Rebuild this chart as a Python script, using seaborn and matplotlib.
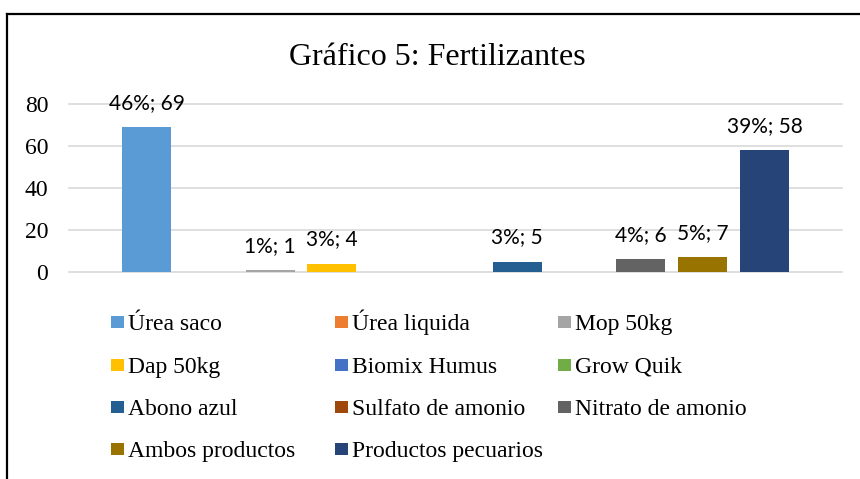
import matplotlib
matplotlib.use("Agg")
import matplotlib.pyplot as plt
from matplotlib.lines import Line2D
from matplotlib.patches import Rectangle
import pandas as pd
import seaborn as sns

# Gráfico 5 — Fertilizantes (one bar per product, Excel-style)

categories = ["Úrea saco", "Úrea liquida", "Mop 50kg", "Dap 50kg", "Biomix Humus",
              "Grow Quik", "Abono azul", "Sulfato de amonio", "Nitrato de amonio",
              "Ambos productos", "Productos pecuarios"]
values = [69, 0, 1, 4, 0, 0, 5, 0, 6, 7, 58]
percents = ["46%", "0%", "1%", "3%", "0%", "0%", "3%", "0%", "4%", "5%", "39%"]
colors = ["#5B9BD5", "#ED7D31", "#A5A5A5", "#FFC000", "#4472C4", "#70AD47",
          "#255E91", "#9E480E", "#636363", "#997300", "#264478"]
y_ticks = [0, 20, 40, 60, 80]

SERIF = "Liberation Serif"
LABEL_FONT = "Lato"

df = pd.DataFrame({"producto": categories, "valor": values})
palette = dict(zip(categories, colors))

W, H = 860, 479
fig = plt.figure(figsize=(W / 100, H / 100), dpi=100)
ax = fig.add_axes([69 / W, 1 - 272 / H, (842 - 69) / W, (272 - 104) / H])

sns.barplot(data=df, x="producto", y="valor", hue="producto", order=categories,
            hue_order=categories, palette=palette, width=0.794, legend=False,
            saturation=1, ax=ax)

ax.set_xlim(-1.255, 11.255)
ax.set_ylim(0, 80)
ax.set_yticks(y_ticks)
ax.set_xticks([])
ax.set_xlabel("")
ax.set_ylabel("")
for s in ax.spines.values():
    s.set_visible(False)
ax.yaxis.grid(True, color="#D9D9D9", linewidth=1.2)
ax.set_axisbelow(True)
for gl in ax.get_ygridlines():
    gl.set_clip_on(False)
ax.tick_params(axis="y", length=0, pad=15)
for t in ax.get_yticklabels():
    t.set_fontfamily(SERIF)
    t.set_fontsize(17)

for i, (v, p) in enumerate(zip(values, percents)):
    if v == 0:
        continue
    ax.annotate(f"{p}; {v}", (i, v), xytext=(0, 13), textcoords="offset points",
                ha="center", va="baseline", fontsize=15, family=LABEL_FONT,
                annotation_clip=False)

fig.text(437.5 / W, 1 - 65 / H, "Gráfico 5: Fertilizantes", ha="center",
         va="baseline", family=SERIF, fontsize=23)

# legend laid out like Excel: 3 columns, filled row by row
col_x = [111, 335, 558]
row_y = [322, 365, 407, 449]
box = 12.5
for k, name in enumerate(categories):
    r, c = divmod(k, 3)
    x0, yc = col_x[c], row_y[r]
    fig.add_artist(Rectangle((x0 / W, 1 - (yc + box / 2) / H), box / W, box / H,
                             transform=fig.transFigure, facecolor=colors[k],
                             edgecolor="none"))
    fig.text((x0 + box + 4.5) / W, 1 - (yc + 8) / H, name, ha="left",
             va="baseline", family=SERIF, fontsize=17)

# outer frame (top and left edges visible)
fig.add_artist(Line2D([7 / W, 1], [1 - 14 / H] * 2, transform=fig.transFigure,
                      color="black", linewidth=1.6))
fig.add_artist(Line2D([7 / W] * 2, [0, 1 - 14 / H], transform=fig.transFigure,
                      color="black", linewidth=1.6))

fig.savefig("out.png", dpi=100)
